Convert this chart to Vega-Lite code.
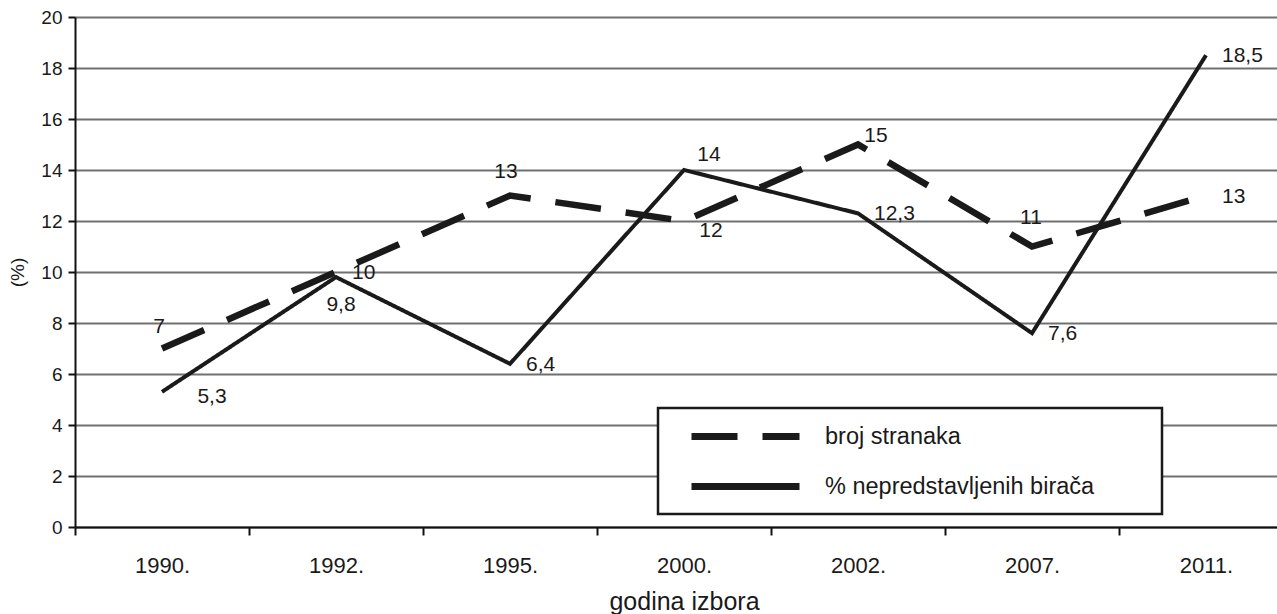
{
  "$schema": "https://vega.github.io/schema/vega-lite/v6.json",
  "autosize": {"type": "none"},
  "width": 1202,
  "height": 510,
  "padding": {"left": 75, "top": 17, "right": 0, "bottom": 87},
  "background": "white",
  "config": {
    "view": {"stroke": null},
    "font": "Liberation Sans",
    "legend": {
      "orient": "none",
      "legendX": 583,
      "legendY": 391,
      "symbolType": "M-4.5,0H4.5",
      "symbolSize": 576,
      "symbolStrokeWidth": 7,
      "symbolStrokeColor": "#1a1a1a",
      "symbolOffset": 59,
      "labelOffset": 64,
      "labelFont": "Liberation Sans",
      "labelFontSize": 23.5,
      "labelColor": "#1a1a1a",
      "labelLimit": 700,
      "rowPadding": 20,
      "padding": 13,
      "strokeColor": "#1a1a1a",
      "strokeWidth": 2.5,
      "fillColor": "white"
    }
  },
  "data": {
    "values": [
      {"year": "1990.", "series": "broj stranaka", "value": 7, "label": "7"},
      {"year": "1992.", "series": "broj stranaka", "value": 10, "label": "10"},
      {"year": "1995.", "series": "broj stranaka", "value": 13, "label": "13"},
      {"year": "2000.", "series": "broj stranaka", "value": 12, "label": "12"},
      {"year": "2002.", "series": "broj stranaka", "value": 15, "label": "15"},
      {"year": "2007.", "series": "broj stranaka", "value": 11, "label": "11"},
      {"year": "2011.", "series": "broj stranaka", "value": 13, "label": "13"},
      {"year": "1990.", "series": "% nepredstavljenih birača", "value": 5.3, "label": "5,3"},
      {"year": "1992.", "series": "% nepredstavljenih birača", "value": 9.8, "label": "9,8"},
      {"year": "1995.", "series": "% nepredstavljenih birača", "value": 6.4, "label": "6,4"},
      {"year": "2000.", "series": "% nepredstavljenih birača", "value": 14, "label": "14"},
      {"year": "2002.", "series": "% nepredstavljenih birača", "value": 12.3, "label": "12,3"},
      {"year": "2007.", "series": "% nepredstavljenih birača", "value": 7.6, "label": "7,6"},
      {"year": "2011.", "series": "% nepredstavljenih birača", "value": 18.5, "label": "18,5"}
    ]
  },
  "encoding": {
    "x": {
      "field": "year",
      "type": "ordinal",
      "sort": null,
      "bandPosition": 0.5,
      "scale": {"type": "band", "range": [0, 1218], "paddingInner": 0, "paddingOuter": 0},
      "axis": {
        "title": "godina izbora",
        "labelAngle": 0,
        "tickBand": "extent",
        "grid": false,
        "domainColor": "#111111",
        "domainWidth": 2,
        "tickColor": "#111111",
        "tickWidth": 2,
        "tickSize": 8,
        "labelFontSize": 22,
        "labelPadding": 20,
        "labelColor": "#1a1a1a",
        "titleFontSize": 25,
        "titleFontWeight": "normal",
        "titleColor": "#1a1a1a",
        "titlePadding": 13
      }
    },
    "y": {
      "field": "value",
      "type": "quantitative",
      "scale": {"domain": [0, 20], "nice": false},
      "axis": {
        "title": "(%)",
        "values": [0, 2, 4, 6, 8, 10, 12, 14, 16, 18, 20],
        "grid": true,
        "gridColor": "#707070",
        "gridWidth": 1.8,
        "domainColor": "#111111",
        "domainWidth": 2,
        "tickColor": "#111111",
        "tickWidth": 2,
        "tickSize": 7,
        "labelPadding": 6,
        "labelFontSize": 19,
        "labelColor": "#1a1a1a",
        "titleFontSize": 19,
        "titleFontWeight": "normal",
        "titleColor": "#1a1a1a",
        "titlePadding": 13
      }
    }
  },
  "layer": [
    {
      "transform": [{"filter": "datum.series === 'broj stranaka'"}],
      "mark": {"type": "line", "color": "#1a1a1a", "strokeWidth": 6.5, "strokeJoin": "miter", "strokeCap": "butt"},
      "encoding": {
        "strokeDash": {
          "field": "series",
          "type": "nominal",
          "scale": {"domain": ["broj stranaka", "% nepredstavljenih birača"], "range": [[46, 25], [1, 0]]},
          "legend": {
            "title": ".",
            "titleOrient": "right",
            "titleOpacity": 0,
            "titleFontSize": 23,
            "titlePadding": 48,
            "symbolStrokeWidth": 7,
            "encode": {
              "symbols": {
                "update": {
                  "strokeWidth": {"value": 7},
                  "strokeDash": [
                    {"test": "datum.value === 'broj stranaka'", "value": [46, 17]},
                    {"value": [1, 0]}
                  ]
                }
              }
            }
          }
        }
      }
    },
    {
      "transform": [{"filter": "datum.series !== 'broj stranaka'"}],
      "mark": {"type": "line", "color": "#1a1a1a", "strokeWidth": 4, "strokeJoin": "miter", "strokeCap": "butt"},
      "encoding": {
        "strokeDash": {
          "field": "series",
          "type": "nominal",
          "scale": {"domain": ["broj stranaka", "% nepredstavljenih birača"], "range": [[46, 25], [1, 0]]}
        }
      }
    },
    {
      "transform": [{"filter": "(datum.series === 'broj stranaka' && (datum.year === '1992.' || datum.year === '2011.')) || (datum.series !== 'broj stranaka' && (datum.year === '1995.' || datum.year === '2002.' || datum.year === '2007.' || datum.year === '2011.'))"}],
      "mark": {"type": "text", "align": "left", "baseline": "middle", "dx": 16, "dy": 1, "fontSize": 21, "color": "#1a1a1a"},
      "encoding": {"text": {"field": "label"}}
    },
    {
      "transform": [{"filter": "datum.series === 'broj stranaka' && datum.year === '1990.'"}],
      "mark": {"type": "text", "align": "center", "baseline": "middle", "dx": -3, "dy": -22, "fontSize": 21, "color": "#1a1a1a"},
      "encoding": {"text": {"field": "label"}}
    },
    {
      "transform": [{"filter": "datum.series === 'broj stranaka' && datum.year === '1995.'"}],
      "mark": {"type": "text", "align": "center", "baseline": "middle", "dx": -4, "dy": -24, "fontSize": 21, "color": "#1a1a1a"},
      "encoding": {"text": {"field": "label"}}
    },
    {
      "transform": [{"filter": "datum.series === 'broj stranaka' && datum.year === '2007.'"}],
      "mark": {"type": "text", "align": "center", "baseline": "middle", "dx": -1, "dy": -29, "fontSize": 21, "color": "#1a1a1a"},
      "encoding": {"text": {"field": "label"}}
    },
    {
      "transform": [{"filter": "datum.series === 'broj stranaka' && datum.year === '2002.'"}],
      "mark": {"type": "text", "align": "center", "baseline": "middle", "dx": 18, "dy": -9, "fontSize": 21, "color": "#1a1a1a"},
      "encoding": {"text": {"field": "label"}}
    },
    {
      "transform": [{"filter": "datum.series === 'broj stranaka' && datum.year === '2000.'"}],
      "mark": {"type": "text", "align": "center", "baseline": "middle", "dx": 27, "dy": 10, "fontSize": 21, "color": "#1a1a1a"},
      "encoding": {"text": {"field": "label"}}
    },
    {
      "transform": [{"filter": "datum.series !== 'broj stranaka' && datum.year === '2000.'"}],
      "mark": {"type": "text", "align": "center", "baseline": "middle", "dx": 25, "dy": -15, "fontSize": 21, "color": "#1a1a1a"},
      "encoding": {"text": {"field": "label"}}
    },
    {
      "transform": [{"filter": "datum.series !== 'broj stranaka' && datum.year === '1990.'"}],
      "mark": {"type": "text", "align": "center", "baseline": "middle", "dx": 50, "dy": 5, "fontSize": 21, "color": "#1a1a1a"},
      "encoding": {"text": {"field": "label"}}
    },
    {
      "transform": [{"filter": "datum.series !== 'broj stranaka' && datum.year === '1992.'"}],
      "mark": {"type": "text", "align": "center", "baseline": "middle", "dx": 5, "dy": 28, "fontSize": 21, "color": "#1a1a1a"},
      "encoding": {"text": {"field": "label"}}
    }
  ]
}
